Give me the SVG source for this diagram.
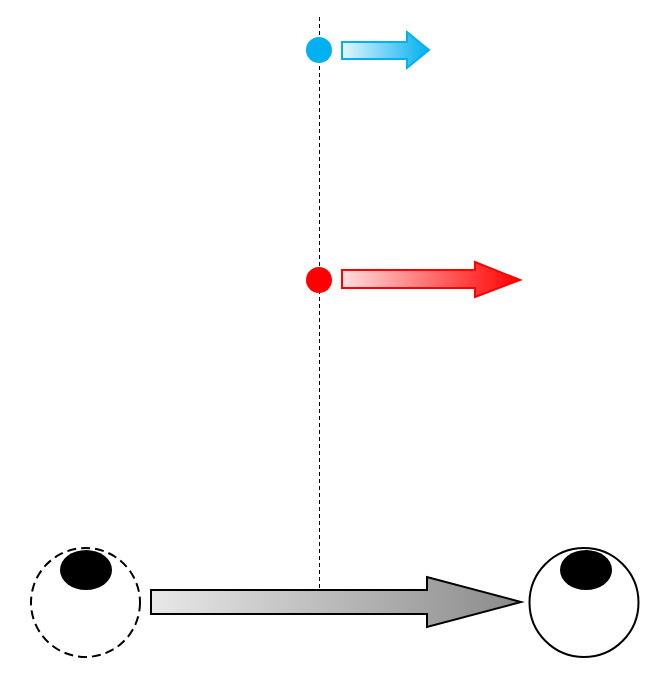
<svg xmlns="http://www.w3.org/2000/svg" width="666" height="682" viewBox="0 0 666 682">
<defs>
<linearGradient id="gBlue" x1="0" y1="0" x2="1" y2="0"><stop offset="0" stop-color="#e4f6fd"/><stop offset="1" stop-color="#00b0f0"/></linearGradient>
<linearGradient id="gRed" x1="0" y1="0" x2="1" y2="0"><stop offset="0" stop-color="#ffdede"/><stop offset="1" stop-color="#ff0000"/></linearGradient>
<linearGradient id="gGray" x1="0" y1="0" x2="1" y2="0"><stop offset="0" stop-color="#e8e8e8"/><stop offset="1" stop-color="#8a8a8a"/></linearGradient>
</defs>
<style>
.guide{stroke:#000;stroke-width:1;stroke-dasharray:4,3;fill:none}
.eye{fill:#fff;stroke:#000;stroke-width:2}
.pupil{fill:#000}
</style>
<g id="connectors">
<line class="guide" x1="319.5" y1="17" x2="319.5" y2="589"/>
</g>
<g id="blue-dot"><circle cx="319" cy="50" r="13" fill="#00b0f0"/></g>
<g id="blue-arrow"><polygon points="342,42 407,42 407,32 429,50 407,68 407,59 342,59" fill="url(#gBlue)" stroke="#00b0f0" stroke-width="2"/></g>
<g id="red-dot"><circle cx="319" cy="280" r="13" fill="#ff0000"/></g>
<g id="red-arrow"><polygon points="342,270 475,270 475,262 520,280 475,297 475,288 342,288" fill="url(#gRed)" stroke="#ff0000" stroke-width="2"/></g>
<g id="left-eye">
<circle class="eye" cx="85.5" cy="602.5" r="54.5" stroke-dasharray="9,5"/>
<ellipse class="pupil" cx="86" cy="570" rx="26" ry="20"/>
</g>
<g id="gray-arrow"><polygon points="151,590 427,590 427,577 521,602 427,627 427,614 151,614" fill="url(#gGray)" stroke="#000" stroke-width="2"/></g>
<g id="right-eye">
<circle class="eye" cx="584" cy="602.5" r="54.5"/>
<ellipse class="pupil" cx="586" cy="570" rx="26" ry="20"/>
</g>
</svg>
